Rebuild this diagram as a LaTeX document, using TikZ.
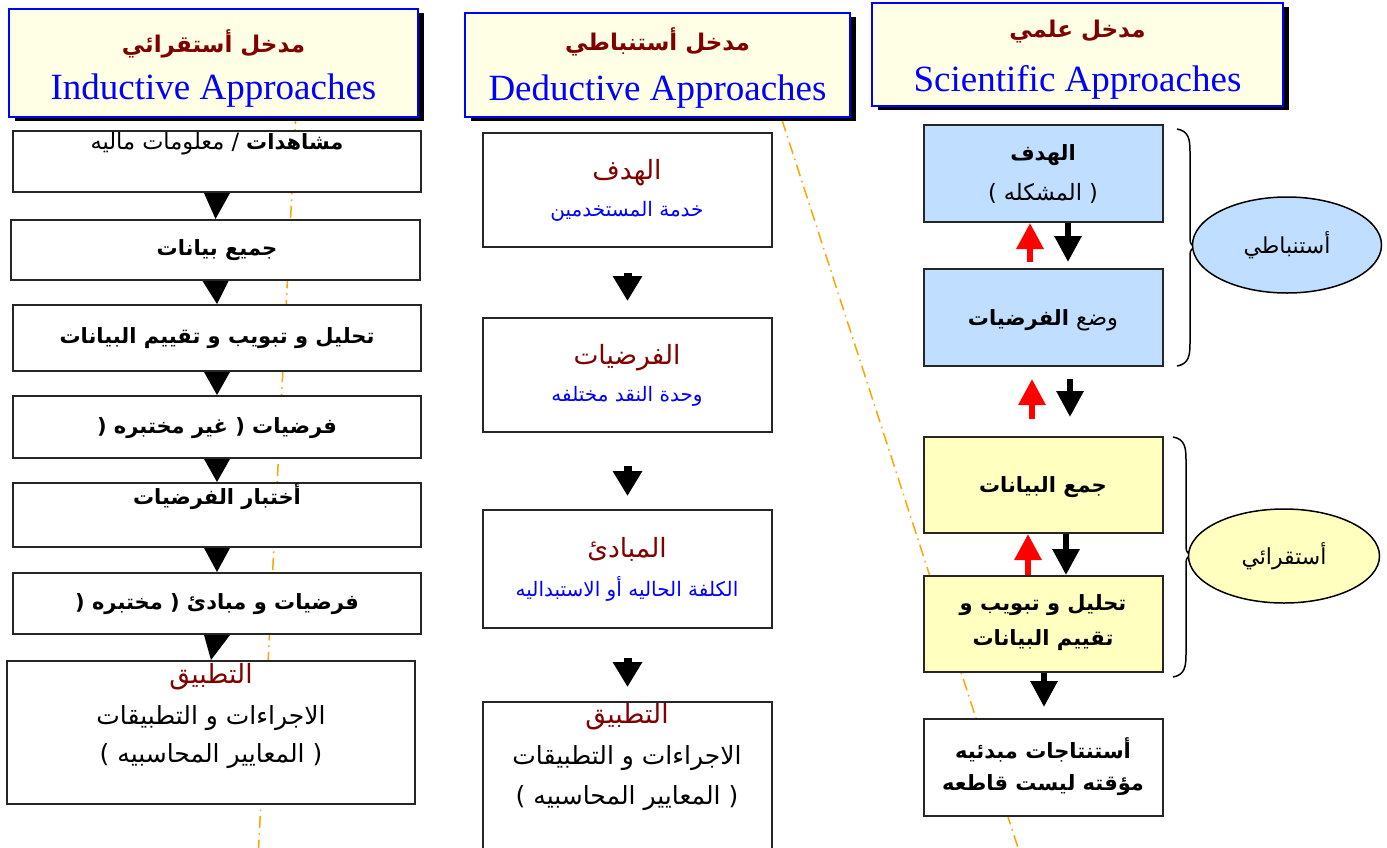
\documentclass[tikz,border=0pt]{standalone}
\usepackage{fontspec}
\setmainfont{Liberation Serif}
\newfontfamily\arabicfont[Script=Arabic]{DejaVu Sans}
\TeXXeTstate=1
\usetikzlibrary{arrows.meta,shadows,calc,shapes.geometric}

\definecolor{hdrfill}{RGB}{255,255,230}
\definecolor{hdrblue}{RGB}{0,0,255}
\definecolor{darkred}{RGB}{128,0,0}
\definecolor{skyfill}{RGB}{192,222,255}
\definecolor{lemonfill}{RGB}{255,255,192}
\definecolor{guide}{RGB}{255,165,0}

\tikzset{
  header/.style={rectangle, draw=hdrblue, line width=2.5pt, fill=hdrfill, inner sep=0pt,
    drop shadow={shadow xshift=6pt, shadow yshift=-4pt, fill=black, opacity=1}},
  stepbox/.style={rectangle, draw=black!85, line width=2pt, fill=white, inner sep=0pt},
  skybox/.style={stepbox, fill=skyfill},
  lemonbox/.style={stepbox, fill=lemonfill},
  bubble/.style={ellipse, draw=black, line width=1.5pt, inner sep=0pt,
    font={\arabicfont\fontsize{22pt}{26pt}\selectfont}},
  entitle/.style={text=hdrblue, inner sep=0pt, font={\fontsize{37pt}{42pt}\selectfont}},
  artitle/.style={text=darkred, inner sep=0pt, font={\arabicfont\bfseries\fontsize{23pt}{28pt}\selectfont}},
  arb/.style={inner sep=0pt, font={\arabicfont\bfseries\fontsize{21pt}{25pt}\selectfont}},
  arr/.style={inner sep=0pt, font={\arabicfont\fontsize{22.5pt}{27pt}\selectfont}},
  arhead/.style={inner sep=0pt, text=darkred, font={\arabicfont\fontsize{26.5pt}{31pt}\selectfont}},
  arsub/.style={inner sep=0pt, text=hdrblue, font={\arabicfont\fontsize{20pt}{24pt}\selectfont}},
  arbody/.style={inner sep=0pt, font={\arabicfont\fontsize{25pt}{29pt}\selectfont}},
  guideline/.style={draw=guide, line width=1.5pt, dash pattern=on 12pt off 5pt on 1.5pt off 5pt},
  fatarrow/.style={line width=8pt, -{Triangle[width=28pt,length=25pt]}},
  uparrow/.style={draw=red, line width=6pt, -{Triangle[width=26pt,length=26pt]}},
  downarrow/.style={draw=black, line width=6pt, -{Triangle[width=26pt,length=26pt]}},
  bracket/.style={draw=black, line width=1.5pt}
}

\begin{document}
\begin{tikzpicture}[x=1pt,y=-1pt]
\useasboundingbox (0,0) rectangle (1387,847);

% dash-dot guide lines behind the boxes
\coordinate (g1a) at (296,112);
\coordinate (g1b) at (258,860);
\coordinate (g2a) at (782,120);
\coordinate (g2b) at (1022,860);
\draw[guideline] (g1a) -- (g1b);
\draw[guideline] (g2a) -- (g2b);

% column headers
\node[header, minimum width=409pt, minimum height=108pt] (H1) at (213.5,63) {};
\node[artitle] (H1a) at (213.5,44) {\beginR مدخل أستقرائي\endR};
\node[entitle] (H1b) at (213.5,91) {Inductive Approaches};

\node[header, minimum width=385pt, minimum height=104pt] (H2) at (657.5,65) {};
\node[artitle] (H2a) at (657.5,42) {\beginR مدخل أستنباطي\endR};
\node[entitle] (H2b) at (657.5,92) {Deductive Approaches};

\node[header, minimum width=411pt, minimum height=103pt] (H3) at (1077.5,54.5) {};
\node[artitle] (H3a) at (1077.5,32) {\beginR مدخل علمي\endR};
\node[entitle] (H3b) at (1077.5,82) {Scientific Approaches};

% inductive column
\node[stepbox, minimum width=408pt, minimum height=61pt] (L1) at (217,161.5) {};
\node[stepbox, minimum width=409pt, minimum height=60pt] (L2) at (215.5,250) {};
\node[stepbox, minimum width=408pt, minimum height=66pt] (L3) at (217,338) {};
\node[stepbox, minimum width=408pt, minimum height=62pt] (L4) at (217,427) {};
\node[stepbox, minimum width=408pt, minimum height=64pt] (L5) at (217,515) {};
\node[stepbox, minimum width=408pt, minimum height=61pt] (L6) at (217,603.5) {};
\node[stepbox, minimum width=408pt, minimum height=143pt] (L7) at (211,732.5) {};

\node[arr] (L1t) at (217,144) {\beginR{\bfseries\fontsize{21pt}{25pt}\selectfont مشاهدات} / معلومات ماليه\endR};
\node[arb] (L2t) at (217,250) {\beginR جميع بيانات\endR};
\node[arb] (L3t) at (217,338) {\beginR تحليل و تبويب و تقييم البيانات\endR};
\node[arb] (L4t) at (217,428) {\beginR فرضيات ( غير مختبره (\endR};
\node[arb] (L5t) at (217,497) {\beginR أختبار الفرضيات\endR};
\node[arb] (L6t) at (217,604) {\beginR فرضيات و مبادئ ( مختبره (\endR};
\node[arhead] (L7a) at (211,677) {\beginR التطبيق\endR};
\node[arbody] (L7b) at (211,718) {\beginR الاجراءات و التطبيقات\endR};
\node[arbody] (L7c) at (211,756) {\beginR ( المعايير المحاسبيه )\endR};

\foreach \a/\b in {L1/L2, L2/L3, L3/L4, L4/L5, L5/L6, L6/L7}
  \fill ($(\a.south)+(-13,0)$) -- ($(\a.south)+(13,0)$) -- (\b.north) -- cycle;

% deductive column
\node[stepbox, minimum width=289pt, minimum height=114pt] (M1) at (627.5,190) {};
\node[stepbox, minimum width=289pt, minimum height=114pt] (M2) at (627.5,375) {};
\node[stepbox, minimum width=289pt, minimum height=118pt] (M3) at (627.5,569) {};
\node[stepbox, minimum width=289pt, minimum height=158pt] (M4) at (627.5,781) {};

\node[arhead] (M1a) at (627,173) {\beginR الهدف\endR};
\node[arsub] (M1b) at (627,211) {\beginR خدمة المستخدمين\endR};
\node[arhead] (M2a) at (627,358) {\beginR الفرضيات\endR};
\node[arsub] (M2b) at (627,396) {\beginR وحدة النقد مختلفه\endR};
\node[arhead] (M3a) at (627,549) {\beginR المبادئ\endR};
\node[arsub] (M3b) at (627,589) {\beginR الكلفة الحاليه أو الاستبداليه\endR};
\node[arhead] (M4a) at (627,717) {\beginR التطبيق\endR};
\node[arbody] (M4b) at (627,758) {\beginR الاجراءات و التطبيقات\endR};
\node[arbody] (M4c) at (627,798) {\beginR ( المعايير المحاسبيه )\endR};

\draw[fatarrow, shorten <=25pt, shorten >=16pt] (M1.south) -- (M2.north);
\draw[fatarrow, shorten <=33pt, shorten >=13pt] (M2.south) -- (M3.north);
\draw[fatarrow, shorten <=29pt, shorten >=14pt] (M3.south) -- (M4.north);

% scientific column
\node[skybox, minimum width=239pt, minimum height=97pt] (A) at (1043.5,173.5) {};
\node[skybox, minimum width=239pt, minimum height=97pt] (B) at (1043.5,317.5) {};
\node[lemonbox, minimum width=239pt, minimum height=96pt] (C) at (1043.5,485) {};
\node[lemonbox, minimum width=239pt, minimum height=96pt] (D) at (1043.5,624) {};
\node[stepbox, minimum width=239pt, minimum height=97pt] (E) at (1043.5,767.5) {};

\node[arb] (At) at (1043,155) {\beginR الهدف\endR};
\node[arr] (Au) at (1043,193) {\beginR ( المشكله )\endR};
\node[arr] (Bt) at (1043,320) {\beginR وضع {\bfseries\fontsize{21pt}{25pt}\selectfont الفرضيات}\endR};
\node[arb] (Ct) at (1043,487) {\beginR جمع البيانات\endR};
\node[arb] (Dt) at (1043,605) {\beginR تحليل و تبويب و\endR};
\node[arb] (Du) at (1043,640) {\beginR تقييم البيانات\endR};
\node[arb] (Et) at (1043,750) {\beginR أستنتاجات مبدئيه\endR};
\node[arb] (Eu) at (1043,785) {\beginR مؤقته ليست قاطعه\endR};

\draw[uparrow, shorten <=6pt] ([xshift=-13.5pt]B.north) -- ([xshift=-13.5pt]A.south);
\draw[downarrow, shorten >=6pt] ([xshift=24.5pt]A.south) -- ([xshift=24.5pt]B.north);
\draw[uparrow, shorten <=17pt, shorten >=12pt] ([xshift=-11.5pt]C.north) -- ([xshift=-11.5pt]B.south);
\draw[downarrow, shorten <=12pt, shorten >=19pt] ([xshift=26.5pt]B.south) -- ([xshift=26.5pt]C.north);
\draw[uparrow] ([xshift=-15.5pt]D.north) -- ([xshift=-15.5pt]C.south);
\draw[downarrow] ([xshift=22.5pt]C.south) -- ([xshift=22.5pt]D.north);
\draw[downarrow, shorten >=11pt] ([xshift=0.5pt]D.south) -- ([xshift=0.5pt]E.north);

% braces and the two approach ellipses
\draw[bracket] (1177,129) .. controls (1189,131) and (1190,140) .. (1190,152) -- (1190,236)
  .. controls (1190,243) .. (1194,247) .. controls (1190,251) .. (1190,258) -- (1190,343)
  .. controls (1190,355) and (1189,364) .. (1177,366);
\draw[bracket] (1173,437) .. controls (1185,439) and (1186,448) .. (1186,460) -- (1186,544)
  .. controls (1186,551) .. (1190,555) .. controls (1186,559) .. (1186,566) -- (1186,654)
  .. controls (1186,666) and (1185,675) .. (1173,677);

\node[bubble, fill=skyfill, minimum width=189pt, minimum height=96pt] (O1) at (1287,245) {\beginR أستنباطي\endR};
\node[bubble, fill=lemonfill, minimum width=191pt, minimum height=94pt] (O2) at (1284,556) {\beginR أستقرائي\endR};

\end{tikzpicture}
\end{document}
